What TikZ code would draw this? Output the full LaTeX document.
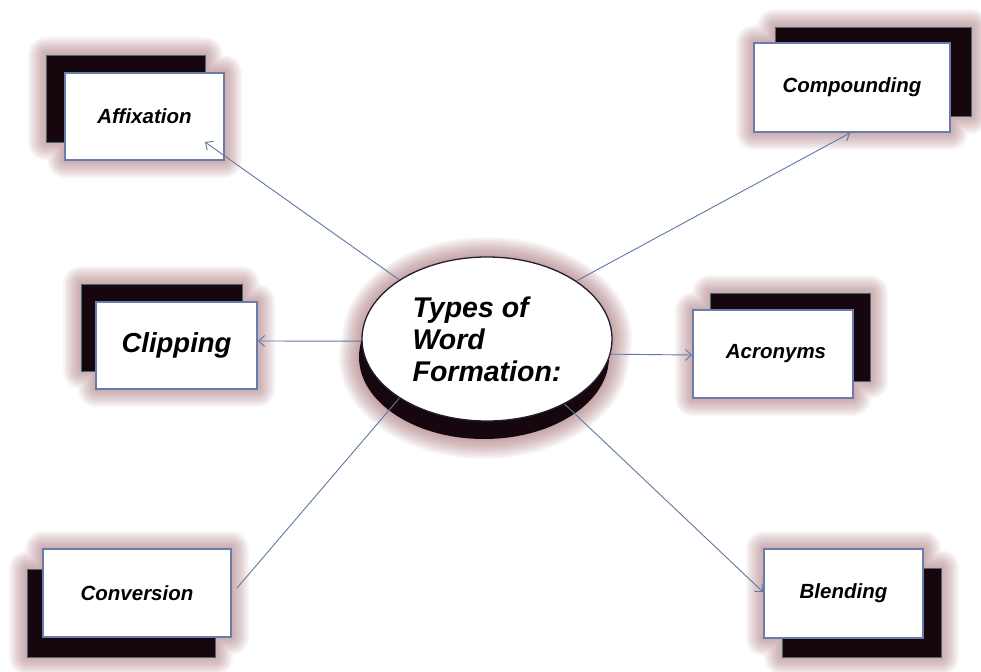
\documentclass[tikz,border=0pt]{standalone}
\usepackage{fontspec}
\setmainfont{Liberation Sans}
\usetikzlibrary{arrows.meta,shapes.geometric}
\definecolor{glowc}{RGB}{160,100,105}
\definecolor{shadc}{RGB}{22,6,14}
\definecolor{shadedge}{RGB}{70,105,115}
\definecolor{boxline}{RGB}{105,125,170}
\definecolor{conn}{RGB}{95,120,165}
\definecolor{ellline}{RGB}{35,30,50}
\tikzset{
  frontbox/.style={draw=boxline, line width=1.4pt, fill=white, inner sep=0pt,
    font=\bfseries\itshape\fontsize{20.5}{24}\selectfont},
  shadowbox/.style={fill=shadc, draw=shadedge, line width=0.8pt},
  glowlayer/.style={fill=glowc, opacity=0.055},
  connector/.style={draw=conn, line width=0.9pt, -{Straight Barb[length=6pt,width=11pt]}},
  plainconn/.style={draw=conn, line width=0.9pt},
  centre/.style={ellipse, draw=ellline, line width=1.3pt, fill=white,
    minimum width=250pt, minimum height=164pt, inner sep=0pt, align=left,
    font=\bfseries\itshape\fontsize{28.5}{32}\selectfont},
}
\newcommand\wfbox[8]{%
  \foreach \g in {18,16.5,...,0.5}{%
    \fill[glowlayer, rounded corners=\g pt]
      ({#2-#4/2-\g},{#3-#5/2-\g}) rectangle ({#2+#4/2+\g},{#3+#5/2+\g})
      ({#2+(#6)-#4/2-\g},{#3+(#7)-#5/2-\g}) rectangle ({#2+(#6)+#4/2+\g},{#3+(#7)+#5/2+\g});
  }%
  \filldraw[shadowbox] ({#2+(#6)-#4/2},{#3+(#7)-#5/2}) rectangle ({#2+(#6)+#4/2},{#3+(#7)+#5/2});
  \node[frontbox, minimum width=#4pt, minimum height=#5pt] (#1) at (#2,#3) {#8};
}
\begin{document}
\begin{tikzpicture}[x=1pt,y=-1pt]
\useasboundingbox[fill=white] (0,0) rectangle (981,671);
% boxes
\wfbox{affix}{144.5}{116.5}{159}{87}{-19}{-18}{Affixation}
\wfbox{comp}{852}{87.5}{196}{89}{21}{-16}{Compounding}
\wfbox{clip}{176.5}{345.5}{161}{87}{-15}{-18}{\fontsize{27.5}{32}\selectfont Clipping}
\wfbox{acro}{773}{354}{160}{88}{17}{-17}{\hspace*{6pt}Acronyms}
\wfbox{conv}{137}{593}{188}{88}{-16}{20}{Conversion}
\wfbox{blend}{843.5}{593.5}{159}{89}{18}{19}{Blending}
% centre ellipse
\foreach \g in {20,18.5,...,0.5}{%
  \fill[glowlayer] (487,339) ellipse [x radius={125+\g}, y radius={82+\g}]
    (484,357) ellipse [x radius={125+\g}, y radius={82+\g}];
}
\fill[shadc] (484,357) ellipse [x radius=125, y radius=82];
\node[centre] (centre) at (487,339) {Types of\\Word\\Formation:};
% connector ends
\coordinate (affixEnd) at (205,142);
\coordinate (compEnd) at (850,133);
\coordinate (clipEnd) at (258,341);
\coordinate (acroEnd) at (692,355);
\coordinate (convEnd) at (237,588);
\coordinate (blendEnd) at (763,592);
\draw[connector] (centre.146) -- (affixEnd);
\draw[connector] (centre.33) -- (compEnd);
\draw[connector] (centre.181) -- (clipEnd);
\draw[connector] (centre.-7) -- (acroEnd);
\draw[plainconn] (centre.214) -- (convEnd);
\draw[connector] (centre.-40) -- (blendEnd);
\end{tikzpicture}
\end{document}
